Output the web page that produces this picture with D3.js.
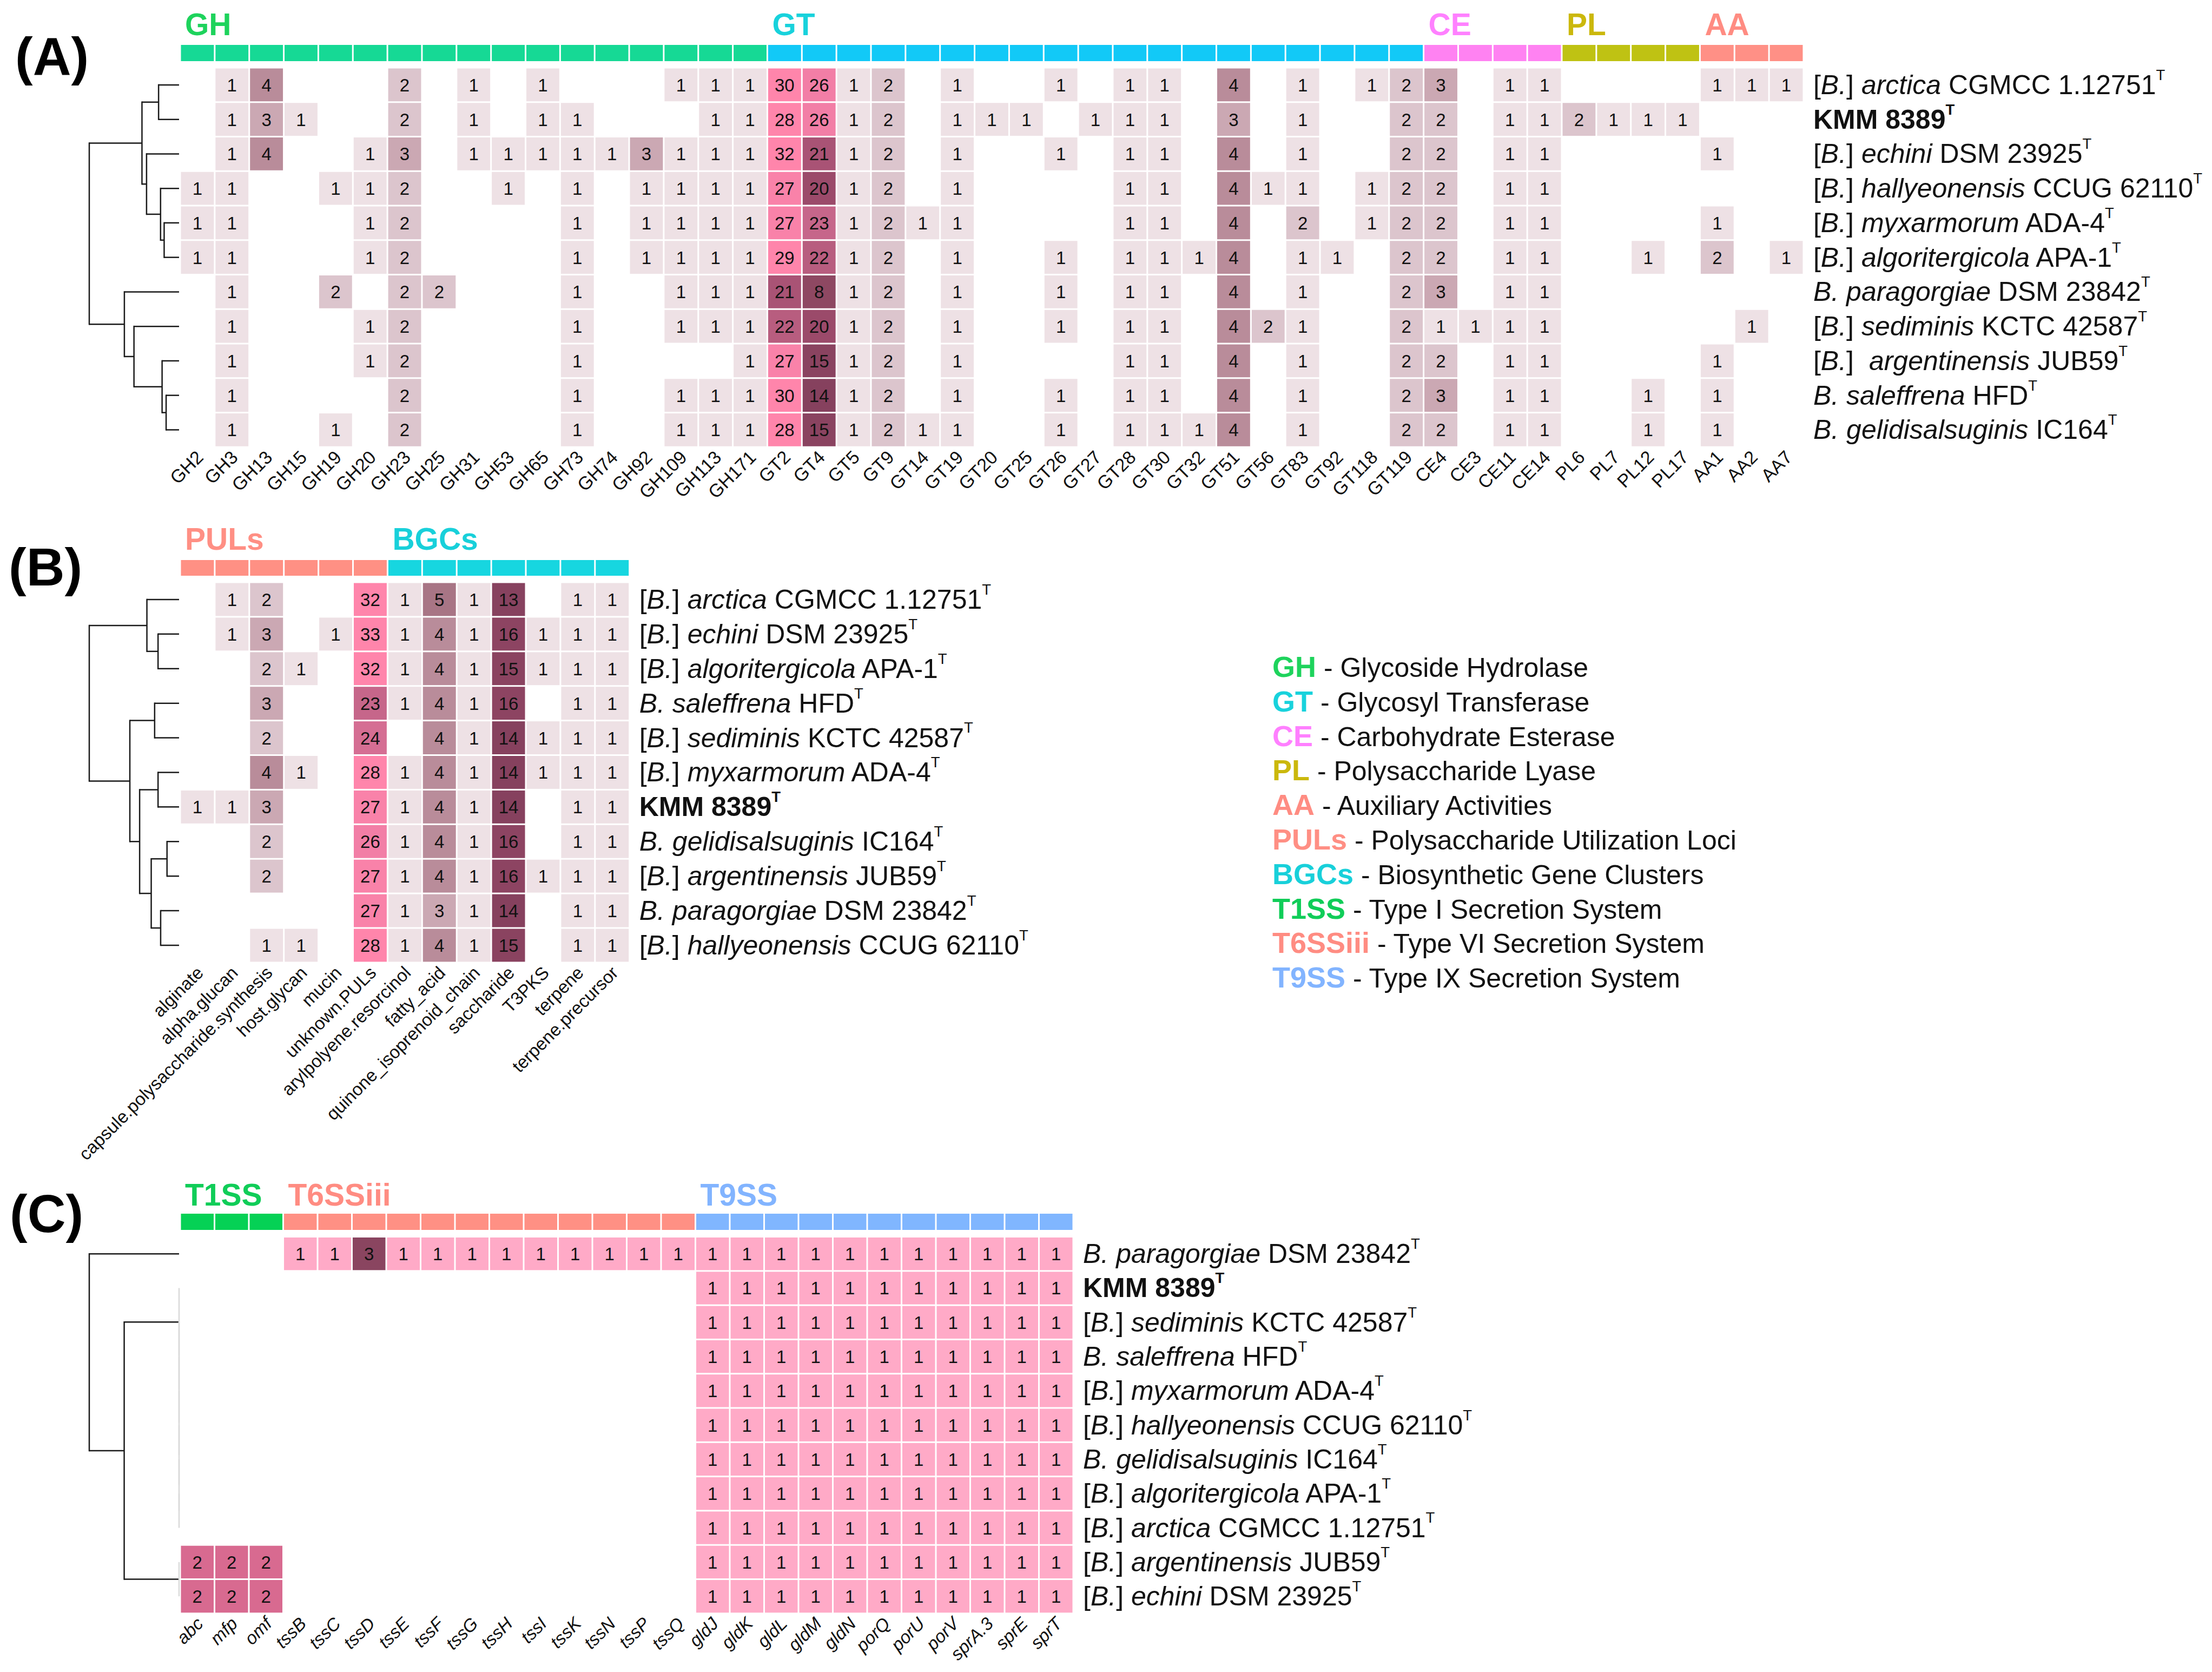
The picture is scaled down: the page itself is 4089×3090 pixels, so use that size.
<!DOCTYPE html>
<html><head><meta charset="utf-8">
<script src="https://cdn.jsdelivr.net/npm/d3@7"></script>
<style>
body{margin:0;background:#fff}
text{font-family:"Liberation Sans",Arial,Helvetica,sans-serif}
</style>
</head><body>
<svg id="chart" width="4089" height="3090"></svg>
<script>
// ---------------- DATA ----------------
const speciesLabels = {
  arctica: ["[B.]", "arctica", " CGMCC 1.12751"],
  KMM: ["bold", "KMM 8389", ""],
  echini: ["[B.]", "echini", " DSM 23925"],
  hallyeonensis: ["[B.]", "hallyeonensis", " CCUG 62110"],
  myxarmorum: ["[B.]", "myxarmorum", " ADA-4"],
  algoritergicola: ["[B.]", "algoritergicola", " APA-1"],
  paragorgiae: ["B.", "paragorgiae", " DSM 23842"],
  sediminis: ["[B.]", "sediminis", " KCTC 42587"],
  argentinensis: ["[B.]", "argentinensis", " JUB59"],
  saleffrena: ["B.", "saleffrena", " HFD"],
  gelidisalsuginis: ["B.", "gelidisalsuginis", " IC164"]
};

// Panel A (CAZymes)
const rowsA = ["arctica","KMM","echini","hallyeonensis","myxarmorum","algoritergicola","paragorgiae","sediminis","argentinensis","saleffrena","gelidisalsuginis"];
const colsGH = ["GH2","GH3","GH13","GH15","GH19","GH20","GH23","GH25","GH31","GH53","GH65","GH73","GH74","GH92","GH109","GH113","GH171"];
const colsGT = ["GT2","GT4","GT5","GT9","GT14","GT19","GT20","GT25","GT26","GT27","GT28","GT30","GT32","GT51","GT56","GT83","GT92","GT118","GT119"];
const colsCE = ["CE4","CE3","CE11","CE14"];
const colsPL = ["PL6","PL7","PL12","PL17"];
const colsAA = ["AA1","AA2","AA7"];
const valuesGH = [
  [0,1,4,0,0,0,2,0,1,0,1,0,0,0,1,1,1],
  [0,1,3,1,0,0,2,0,1,0,1,1,0,0,0,1,1],
  [0,1,4,0,0,1,3,0,1,1,1,1,1,3,1,1,1],
  [1,1,0,0,1,1,2,0,0,1,0,1,0,1,1,1,1],
  [1,1,0,0,0,1,2,0,0,0,0,1,0,1,1,1,1],
  [1,1,0,0,0,1,2,0,0,0,0,1,0,1,1,1,1],
  [0,1,0,0,2,0,2,2,0,0,0,1,0,0,1,1,1],
  [0,1,0,0,0,1,2,0,0,0,0,1,0,0,1,1,1],
  [0,1,0,0,0,1,2,0,0,0,0,1,0,0,0,0,1],
  [0,1,0,0,0,0,2,0,0,0,0,1,0,0,1,1,1],
  [0,1,0,0,1,0,2,0,0,0,0,1,0,0,1,1,1]
];
const valuesGT = [
  [30,26,1,2,0,1,0,0,1,0,1,1,0,4,0,1,0,1,2],
  [28,26,1,2,0,1,1,1,0,1,1,1,0,3,0,1,0,0,2],
  [32,21,1,2,0,1,0,0,1,0,1,1,0,4,0,1,0,0,2],
  [27,20,1,2,0,1,0,0,0,0,1,1,0,4,1,1,0,1,2],
  [27,23,1,2,1,1,0,0,0,0,1,1,0,4,0,2,0,1,2],
  [29,22,1,2,0,1,0,0,1,0,1,1,1,4,0,1,1,0,2],
  [21,8,1,2,0,1,0,0,1,0,1,1,0,4,0,1,0,0,2],
  [22,20,1,2,0,1,0,0,1,0,1,1,0,4,2,1,0,0,2],
  [27,15,1,2,0,1,0,0,0,0,1,1,0,4,0,1,0,0,2],
  [30,14,1,2,0,1,0,0,1,0,1,1,0,4,0,1,0,0,2],
  [28,15,1,2,1,1,0,0,1,0,1,1,1,4,0,1,0,0,2]
];
const valuesCE = [[3,0,1,1],[2,0,1,1],[2,0,1,1],[2,0,1,1],[2,0,1,1],[2,0,1,1],[3,0,1,1],[1,1,1,1],[2,0,1,1],[3,0,1,1],[2,0,1,1]];
const valuesPL = [[0,0,0,0],[2,1,1,1],[0,0,0,0],[0,0,0,0],[0,0,0,0],[0,0,1,0],[0,0,0,0],[0,0,0,0],[0,0,0,0],[0,0,1,0],[0,0,1,0]];
const valuesAA = [[1,1,1],[0,0,0],[1,0,0],[0,0,0],[1,0,0],[2,0,1],[0,0,0],[0,1,0],[1,0,0],[1,0,0],[1,0,0]];
const treeA = {h:1.0, c:[{h:0.413, c:[{h:0.228, c:[0,1]}, {h:0.362, c:[2, {h:0.206, c:[3, {h:0.166, c:[4,5]}]}]}]},
                        {h:0.609, c:[6, {h:0.502, c:[7, {h:0.189, c:[8, {h:0.144, c:[9,10]}]}]}]}]};

// Panel B (PULs / BGCs)
const rowsB = ["arctica","echini","algoritergicola","saleffrena","sediminis","myxarmorum","KMM","gelidisalsuginis","argentinensis","paragorgiae","hallyeonensis"];
const colsPUL = ["alginate","alpha.glucan","capsule.polysaccharide.synthesis","host.glycan","mucin","unknown.PULs"];
const colsBGC = ["arylpolyene.resorcinol","fatty_acid","quinone_isoprenoid_chain","saccharide","T3PKS","terpene","terpene.precursor"];
const valuesPUL = [[0,1,2,0,0,32],[0,1,3,0,1,33],[0,0,2,1,0,32],[0,0,3,0,0,23],[0,0,2,0,0,24],[0,0,4,1,0,28],[1,1,3,0,0,27],[0,0,2,0,0,26],[0,0,2,0,0,27],[0,0,0,0,0,27],[0,0,1,1,0,28]];
const valuesBGC = [[1,5,1,13,0,1,1],[1,4,1,16,1,1,1],[1,4,1,15,1,1,1],[1,4,1,16,0,1,1],[0,4,1,14,1,1,1],[1,4,1,14,1,1,1],[1,4,1,14,0,1,1],[1,4,1,16,0,1,1],[1,4,1,16,1,1,1],[1,3,1,14,0,1,1],[1,4,1,15,0,1,1]];
const treeB = {h:1.0, c:[{h:0.358, c:[0, {h:0.234, c:[1,2]}]},
                        {h:0.548, c:[{h:0.272, c:[3,4]}, {h:0.439, c:[{h:0.234, c:[5,6]}, {h:0.310, c:[{h:0.134, c:[7,8]}, {h:0.205, c:[9,10]}]}]}]}]};

// Panel C (secretion systems)
const rowsC = ["paragorgiae","KMM","sediminis","saleffrena","myxarmorum","hallyeonensis","gelidisalsuginis","algoritergicola","arctica","argentinensis","echini"];
const colsT1 = ["abc","mfp","omf"];
const colsT6 = ["tssB","tssC","tssD","tssE","tssF","tssG","tssH","tssI","tssK","tssN","tssP","tssQ"];
const colsT9 = ["gldJ","gldK","gldL","gldM","gldN","porQ","porU","porV","sprA.3","sprE","sprT"];
const valuesT1 = [[0,0,0],[0,0,0],[0,0,0],[0,0,0],[0,0,0],[0,0,0],[0,0,0],[0,0,0],[0,0,0],[2,2,2],[2,2,2]];
const valuesT6 = [[1,1,3,1,1,1,1,1,1,1,1,1],[0,0,0,0,0,0,0,0,0,0,0,0],[0,0,0,0,0,0,0,0,0,0,0,0],[0,0,0,0,0,0,0,0,0,0,0,0],[0,0,0,0,0,0,0,0,0,0,0,0],[0,0,0,0,0,0,0,0,0,0,0,0],[0,0,0,0,0,0,0,0,0,0,0,0],[0,0,0,0,0,0,0,0,0,0,0,0],[0,0,0,0,0,0,0,0,0,0,0,0],[0,0,0,0,0,0,0,0,0,0,0,0],[0,0,0,0,0,0,0,0,0,0,0,0]];
const valuesT9 = [[1,1,1,1,1,1,1,1,1,1,1],[1,1,1,1,1,1,1,1,1,1,1],[1,1,1,1,1,1,1,1,1,1,1],[1,1,1,1,1,1,1,1,1,1,1],[1,1,1,1,1,1,1,1,1,1,1],[1,1,1,1,1,1,1,1,1,1,1],[1,1,1,1,1,1,1,1,1,1,1],[1,1,1,1,1,1,1,1,1,1,1],[1,1,1,1,1,1,1,1,1,1,1],[1,1,1,1,1,1,1,1,1,1,1],[1,1,1,1,1,1,1,1,1,1,1]];
const treeC = {h:1.0, c:[0, {h:0.611, c:[{h:0, c:[1,{h:0,c:[2,{h:0,c:[3,{h:0,c:[4,{h:0,c:[5,{h:0,c:[6,{h:0,c:[7,8]}]}]}]}]}]}]}, {h:0, c:[9,10]}]}]};

// Legend
const legendKeys = ["GH","GT","CE","PL","AA","PULs","BGCs","T1SS","T6SSiii","T9SS"];
const legendDescriptions = ["Glycoside Hydrolase","Glycosyl Transferase","Carbohydrate Esterase","Polysaccharide Lyase","Auxiliary Activities","Polysaccharide Utilization Loci","Biosynthetic Gene Clusters","Type I Secretion System","Type VI Secretion System","Type IX Secretion System"];

// ---------------- STYLE ----------------
const groupColor = {GH:"#16d995", GT:"#12c9f7", CE:"#ff82f2", PL:"#bfc213", AA:"#ff9086",
                    PULs:"#ff9084", BGCs:"#17d6e0", T1SS:"#05d155", T6SSiii:"#ff9084", T9SS:"#80b6ff"};
const headerColor = {GH:"#1ed35c", GT:"#18d2dc", CE:"#ff80ff", PL:"#cbb80c", AA:"#ff8c82",
                     PULs:"#ff8f84", BGCs:"#18d0da", T1SS:"#10cd58", T6SSiii:"#ff8c82", T9SS:"#82b4ff"};
const colorAB = d3.scaleLinear()
  .domain([1,2,3,4,5,8,14,20,23,26,28,33])
  .range(["#eee1e5","#dcc5cd","#cba8b3","#b98c9a","#a87585","#8e4862","#86415e","#9b4a6a","#c6668a","#f27ea6","#ff85ab","#ff85ab"])
  .clamp(true);
const colorC = d3.scaleLinear().domain([1,2,3]).range(["#ffaac7","#d86a90","#8a4560"]);

const svg = d3.select("#chart");

function rowLabel(sel, key, extraGap) {
  const p = speciesLabels[key];
  if (p[0] === "bold") {
    sel.append("tspan").attr("font-weight","bold").text(p[1]);
    sel.append("tspan").attr("font-weight","bold").attr("font-size","0.55em").attr("dy","-0.95em").text("T");
    return;
  }
  if (p[0] === "[B.]") {
    sel.append("tspan").text("[");
    sel.append("tspan").attr("font-style","italic").text("B.");
    sel.append("tspan").text("] ");
    sel.append("tspan").attr("font-style","italic").attr("dx", extraGap || 0).text(p[1]);
  } else {
    sel.append("tspan").attr("font-style","italic").text("B. " + p[1]);
  }
  sel.append("tspan").text(p[2]);
  sel.append("tspan").attr("font-size","0.55em").attr("dy","-0.95em").text("T");
}

function drawTree(g, tree, yOf, xTip, xRoot) {
  const root = d3.hierarchy(tree, d => (d && d.c) ? d.c : null);
  const xs = d3.scaleLinear().domain([0, 1]).range([xTip, xRoot]);
  root.eachAfter(n => {
    if (!n.children) { n.yy = yOf(n.data); n.hh = 0; }
    else { n.yy = d3.mean(n.children, c => c.yy); n.hh = n.data.h; }
  });
  root.each(n => {
    if (!n.children) return;
    const col = n.hh === 0 ? "#d9d9d9" : "#1a1a1a";
    const ys = n.children.map(c => c.yy);
    g.append("line").attr("x1", xs(n.hh)).attr("x2", xs(n.hh))
      .attr("y1", d3.min(ys) - (n.hh===0?0:1.25)).attr("y2", d3.max(ys) + (n.hh===0?0:1.25))
      .attr("stroke", col).attr("stroke-width", 2.5);
    n.children.forEach(c => {
      if (xs(n.hh) === xs(c.hh)) return;
      g.append("line").attr("x1", xs(n.hh)).attr("x2", xs(c.hh))
        .attr("y1", c.yy).attr("y2", c.yy).attr("stroke", "#1a1a1a").attr("stroke-width", 2.5);
    });
  });
}

function drawPanel(cfg) {
  const g = svg.append("g");
  const cols = [];
  cfg.groups.forEach(gr => gr.cols.forEach((c, j) => cols.push({name: c, group: gr.name, gi: j, values: gr.values})));
  const x = d3.scaleBand().domain(cols.map(c => c.name)).range([cfg.x0, cfg.x0 + cfg.cw * cols.length]);
  const y = d3.scaleBand().domain(d3.range(cfg.rows.length)).range([cfg.y0, cfg.y0 + cfg.ch * cfg.rows.length]);
  const gap = 1.5;

  // panel tag
  g.append("text").attr("x", cfg.tagX).attr("y", cfg.tagY).attr("font-size", 98).attr("font-weight", "bold").text(cfg.tag);

  // group headers and bars
  cfg.groups.forEach(gr => {
    g.append("text").attr("x", x(gr.cols[0]) + 9).attr("y", cfg.headerY)
      .attr("font-size", 57).attr("font-weight", "bold").attr("fill", headerColor[gr.name]).text(gr.name);
  });
  g.selectAll(null).data(cols).join("rect")
    .attr("x", d => x(d.name) + gap).attr("width", x.bandwidth() - 2*gap)
    .attr("y", cfg.barY).attr("height", cfg.barH)
    .attr("fill", d => groupColor[d.group]);

  // cells
  const cells = [];
  cfg.rows.forEach((r, i) => cols.forEach(c => {
    const v = c.values[i][c.gi];
    if (v > 0) cells.push({row: i, col: c.name, v});
  }));
  g.selectAll(null).data(cells).join("rect")
    .attr("x", d => x(d.col) + gap).attr("width", x.bandwidth() - 2*gap)
    .attr("y", d => y(d.row) + gap).attr("height", y.bandwidth() - 2*gap)
    .attr("fill", d => cfg.color(d.v));
  g.selectAll(null).data(cells).join("text")
    .attr("x", d => x(d.col) + x.bandwidth()/2).attr("y", d => y(d.row) + y.bandwidth()/2 + 12)
    .attr("text-anchor", "middle").attr("font-size", 33).attr("fill", "#111").text(d => d.v);

  // column labels
  const yb = cfg.y0 + cfg.ch * cfg.rows.length;
  g.selectAll(null).data(cols).join("text")
    .attr("transform", d => `translate(${x(d.name) + x.bandwidth()/2 + 13},${yb + 21}) rotate(-45)`)
    .attr("text-anchor", "end").attr("font-size", cfg.tickSize)
    .attr("font-style", cfg.tickItalic ? "italic" : null).attr("fill", "#111").text(d => d.name);

  // row labels
  const lx = cfg.x0 + cfg.cw * cols.length + 18;
  cfg.rows.forEach((r, i) => {
    const t = g.append("text").attr("x", lx).attr("y", y(i) + y.bandwidth()/2 + 17)
      .attr("font-size", 50).attr("fill", "#111");
    rowLabel(t, r, (cfg.extraGap || {})[r]);
  });

  // dendrogram
  drawTree(g, cfg.tree, i => y(i) + y.bandwidth()/2, cfg.x0 - 2, 165);
}

drawPanel({
  tag: "(A)", tagX: 28, tagY: 138,
  x0: 333, cw: 63.85, y0: 125, ch: 63.75, barY: 83, barH: 30, headerY: 65, tickSize: 34,
  rows: rowsA, tree: treeA, color: colorAB, extraGap: {argentinensis: 14},
  groups: [
    {name: "GH", cols: colsGH, values: valuesGH},
    {name: "GT", cols: colsGT, values: valuesGT},
    {name: "CE", cols: colsCE, values: valuesCE},
    {name: "PL", cols: colsPL, values: valuesPL},
    {name: "AA", cols: colsAA, values: valuesAA}
  ]
});

drawPanel({
  tag: "(B)", tagX: 16, tagY: 1082,
  x0: 333, cw: 63.9, y0: 1076, ch: 63.9, barY: 1035, barH: 29, headerY: 1016, tickSize: 33,
  rows: rowsB, tree: treeB, color: colorAB,
  groups: [
    {name: "PULs", cols: colsPUL, values: valuesPUL},
    {name: "BGCs", cols: colsBGC, values: valuesBGC}
  ]
});

drawPanel({
  tag: "(C)", tagX: 18, tagY: 2277,
  x0: 333, cw: 63.5, y0: 2285.5, ch: 63.3, barY: 2243, barH: 30, headerY: 2228, tickSize: 33,
  rows: rowsC, tree: treeC, color: colorC, tickItalic: true,
  groups: [
    {name: "T1SS", cols: colsT1, values: valuesT1},
    {name: "T6SSiii", cols: colsT6, values: valuesT6},
    {name: "T9SS", cols: colsT9, values: valuesT9}
  ]
});

// legend
const lg = svg.append("g");
const ly = d3.scaleLinear().domain([0, legendKeys.length - 1]).range([1251, 1251 + 63.8 * (legendKeys.length - 1)]);
legendKeys.forEach((k, i) => {
  const t = lg.append("text").attr("x", 2352).attr("y", ly(i)).attr("font-size", 50).attr("fill", "#111");
  t.append("tspan").attr("font-weight", "bold").attr("font-size", 54).attr("fill", headerColor[k]).text(k);
  t.append("tspan").text(" - " + legendDescriptions[i]);
});
</script>
</body></html>
